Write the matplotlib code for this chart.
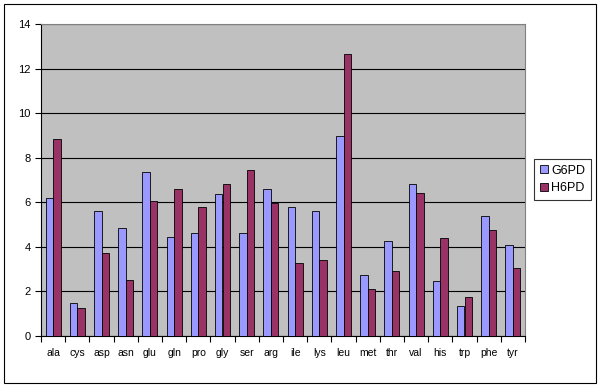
import numpy as np
import matplotlib.pyplot as plt
from matplotlib.patches import Rectangle

# dati
amino = ["ala", "cys", "asp", "asn", "glu", "gln", "pro", "gly", "ser", "arg",
         "ile", "lys", "leu", "met", "thr", "val", "his", "trp", "phe", "tyr"]
g6pd = [6.21, 1.50, 5.61, 4.85, 7.34, 4.43, 4.64, 6.39, 4.64, 6.58,
        5.80, 5.62, 8.97, 2.72, 4.26, 6.81, 2.48, 1.33, 5.40, 4.10]
h6pd = [8.82, 1.24, 3.74, 2.51, 6.04, 6.58, 5.77, 6.81, 7.43, 5.98,
        3.29, 3.41, 12.65, 2.09, 2.90, 6.43, 4.38, 1.76, 4.77, 3.04]
yticks = [0, 2, 4, 6, 8, 10, 12, 14]

plt.rcParams['font.family'] = ['Liberation Sans', 'DejaVu Sans']

fig = plt.figure(figsize=(6, 3.87), dpi=100)
ax = fig.add_axes([41/600, 1 - 336/387, (525 - 41)/600, (336 - 24)/387])
ax.set_facecolor("#C0C0C0")

x = np.arange(len(amino))
w = 0.31
ax.bar(x - w/2, g6pd, w, color="#9999FF", edgecolor="black", linewidth=0.6,
       label="G6PD", zorder=3)
ax.bar(x + w/2, h6pd, w, color="#993366", edgecolor="black", linewidth=0.6,
       label="H6PD", zorder=3)

ax.set_ylim(0, 14)
ax.set_xlim(-0.5, len(amino) - 0.5)
ax.set_yticks(yticks)
ax.yaxis.grid(True, color="black", linewidth=0.8, zorder=1)
ax.set_xticks(x)
ax.set_xticklabels(amino)
ax.set_xticks(np.arange(-0.5, len(amino)), minor=True)
ax.tick_params(axis="x", which="major", length=0, pad=9, labelsize=7.5)
ax.tick_params(axis="x", which="minor", length=4, width=0.8, direction="out")
ax.tick_params(axis="y", length=4, width=0.8, labelsize=8)

for s in ["top", "right"]:
    ax.spines[s].set_color("#808080")
    ax.spines[s].set_linewidth(0.8)
for s in ["left", "bottom"]:
    ax.spines[s].set_color("black")
    ax.spines[s].set_linewidth(0.8)

leg = fig.legend(loc="center left", bbox_to_anchor=(534/600, 1 - 179.5/387),
                 frameon=True, fancybox=False, fontsize=9, handlelength=0.65,
                 handleheight=0.65, handletextpad=0.3, borderpad=0.45,
                 labelspacing=0.45, borderaxespad=0)
leg.get_frame().set_edgecolor("black")
leg.get_frame().set_linewidth(0.8)

# bordo esterno del grafico
fig.patches.append(Rectangle((4/600, 4/387), 592/600, 379/387, transform=fig.transFigure,
                             fill=False, edgecolor="black", linewidth=0.8))

fig.savefig("out.png", dpi=100)
